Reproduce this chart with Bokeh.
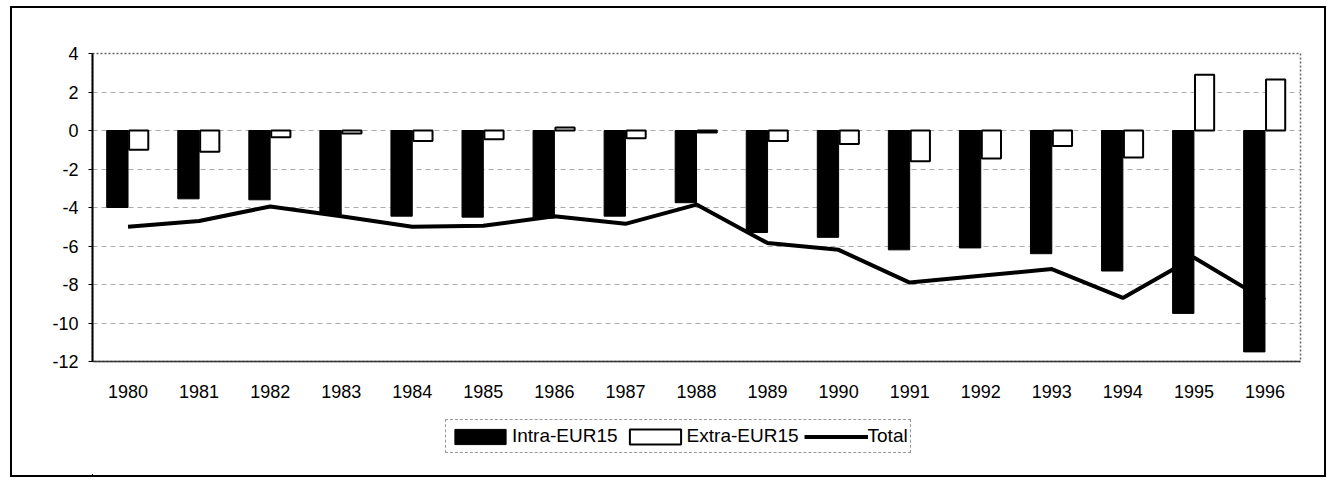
from bokeh.plotting import figure
from bokeh.models import ColumnDataSource, Legend, LegendItem, FactorRange, Range1d, FixedTicker
from bokeh.transform import dodge
from bokeh.layouts import column
from bokeh.embed import file_html
from bokeh.resources import INLINE

years = ["1980", "1981", "1982", "1983", "1984", "1985", "1986", "1987", "1988",
         "1989", "1990", "1991", "1992", "1993", "1994", "1995", "1996"]
intra = [-4.0, -3.55, -3.6, -4.35, -4.45, -4.5, -4.55, -4.45, -3.75,
         -5.3, -5.55, -6.2, -6.1, -6.4, -7.3, -9.5, -11.5]
extra = [-1.0, -1.1, -0.35, -0.15, -0.55, -0.45, 0.15, -0.4, -0.1,
         -0.55, -0.7, -1.6, -1.45, -0.8, -1.4, 2.9, 2.65]
total = [-5.0, -4.7, -3.95, -4.45, -5.0, -4.95, -4.45, -4.85, -3.85,
         -5.85, -6.2, -7.9, -7.55, -7.2, -8.7, -6.6, -8.8]
y_ticks = [-12, -10, -8, -6, -4, -2, 0, 2, 4]
y_tick_labels = ["-12", "-10", "-8", "-6", "-4", "-2", "0", "2", "4"]
series_names = ["Intra-EUR15", "Extra-EUR15", "Total"]

src = ColumnDataSource(dict(year=years, intra=intra, extra=extra, total=total))

FONT = "Liberation Sans"
W = 1312


def draw(fig, shift=0.0):
    ri = fig.vbar(x=dodge("year", shift - 0.15, range=fig.x_range), top="intra", width=0.3,
                  source=src, fill_color="black", line_color="black", line_width=1)
    re = fig.vbar(x=dodge("year", shift + 0.15, range=fig.x_range), top="extra", width=0.27,
                  source=src, fill_color="white", line_color="black", line_width=2)
    rt = fig.line(x=dodge("year", shift, range=fig.x_range), y="total", source=src,
                  line_color="black", line_width=4)
    return ri, re, rt


p = figure(width=W, height=402, x_range=FactorRange(factors=years, range_padding=0),
           y_range=Range1d(-12, 4), output_backend="svg", toolbar_location=None,
           min_border_left=80, min_border_right=24, min_border_top=45, min_border_bottom=49)
draw(p)

p.xgrid.grid_line_color = None
p.ygrid.grid_line_color = "#aaaaaa"
p.ygrid.grid_line_dash = "5 4"
p.ygrid.grid_line_width = 1
p.yaxis.ticker = FixedTicker(ticks=y_ticks)
p.yaxis.major_label_overrides = dict(zip(y_ticks, y_tick_labels))

p.outline_line_color = "#666666"
p.outline_line_dash = "2 2"
p.outline_line_width = 1.5

p.yaxis.axis_line_color = "black"
p.yaxis.axis_line_width = 2
p.yaxis.major_tick_out = 4
p.yaxis.major_tick_in = 0
p.yaxis.minor_tick_line_color = None
p.yaxis.major_label_standoff = 10
p.xaxis.axis_line_color = "#333333"
p.xaxis.axis_line_width = 1.5
p.xaxis.major_tick_line_color = None
p.xaxis.major_label_standoff = 17
for ax in (p.xaxis[0], p.yaxis[0]):
    ax.major_label_text_font = FONT
    ax.major_label_text_font_size = "18px"
    ax.major_label_text_color = "black"

# legend strip below the chart: its own copies of the glyphs lie far outside its view
pl = figure(width=W, height=65, x_range=FactorRange(factors=years, range_padding=0),
            y_range=Range1d(1000, 1001), output_backend="svg", toolbar_location=None,
            x_axis_location=None, y_axis_location=None,
            min_border_left=0, min_border_right=0, min_border_top=0, min_border_bottom=0)
pl.outline_line_color = None
pl.grid.grid_line_color = None
li, le, lt = draw(pl, shift=-200.0)

legend = Legend(items=[LegendItem(label=series_names[0], renderers=[li]),
                       LegendItem(label=series_names[1], renderers=[le]),
                       LegendItem(label=series_names[2], renderers=[lt])],
                orientation="horizontal", location=(353, 22),
                label_text_font=FONT, label_text_font_size="19px", label_text_color="black",
                glyph_width=64, glyph_height=19, label_standoff=0, spacing=5,
                padding=2, label_height=28,
                border_line_color="#333333", border_line_dash="4 2", border_line_width=1,
                background_fill_alpha=0)
pl.add_layout(legend, "center")

layout = column(p, pl, styles={"border": "2px solid black", "margin-left": "10px", "margin-top": "6px"})

open("out.html", "w").write(file_html(layout, INLINE))
